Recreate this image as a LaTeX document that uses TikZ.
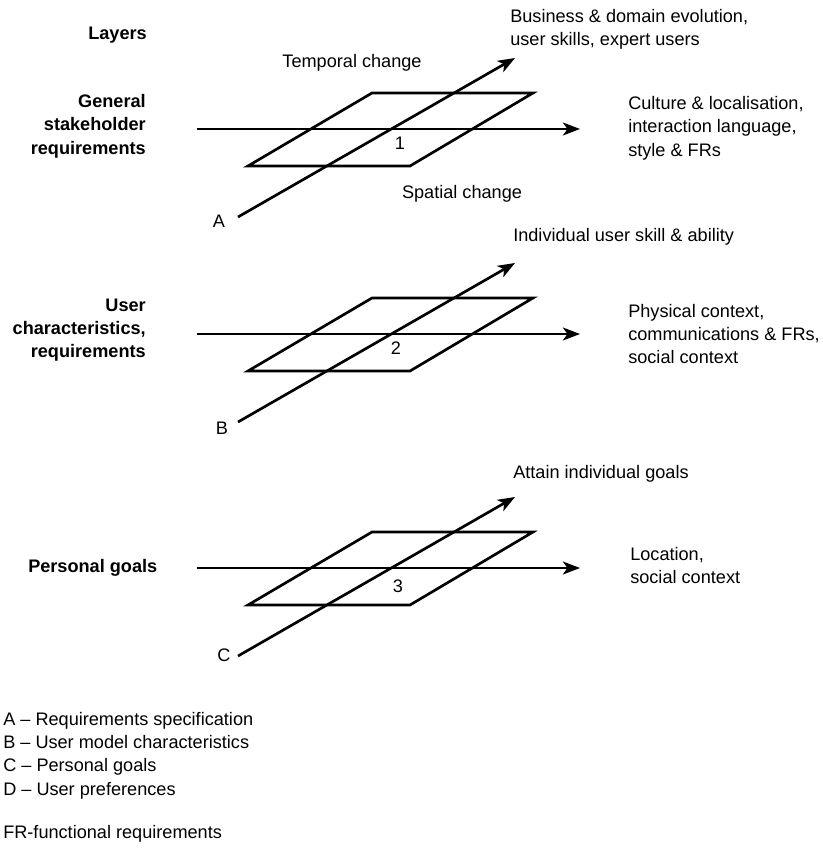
\documentclass[tikz,border=0pt]{standalone}
\usepackage{fontspec}
\setmainfont{Liberation Sans}
\usetikzlibrary{arrows.meta}
\tikzset{
  layerlabel/.style={font=\fontsize{13.6}{17.5}\selectfont\bfseries, align=right, inner sep=0pt},
  plainlabel/.style={font=\fontsize{13.6}{17.5}\selectfont, align=left, inner sep=0pt},
  changeedge/.style={-{Stealth[length=4.5mm, width=3.4mm, inset=1.2mm]}, line width=2pt},
  gridplane/.style={line width=2pt, line join=miter},
}

\begin{document}
\begin{tikzpicture}[x=0.75pt, y=-0.75pt]
  \useasboundingbox (0,0) rectangle (823,848);

  % layer 1
  \node[layerlabel, anchor=east] (layers) at (147,35) {Layers};
  \node[layerlabel, anchor=east] (general) at (146,126) {General\\stakeholder\\requirements};
  \draw[gridplane] (248,166) -- (410,166) -- (533,93) -- (372,93) -- cycle;
  \coordinate (hs1) at (197,129);
  \coordinate (he1) at (580,129);
  \coordinate (ds1) at (238,217);
  \coordinate (de1) at (515,58);
  \draw[changeedge] (hs1) -- (he1);
  \draw[changeedge] (ds1) -- (de1);
  \node[plainlabel] (temporal) at (352,63) {Temporal change};
  \node[plainlabel] (spatial) at (462,194) {Spatial change};
  \node[plainlabel] (one) at (400,143) {1};
  \node[plainlabel] (a) at (219,221) {A};
  \node[plainlabel, anchor=west] (business) at (510,29.5) {Business \& domain evolution,\\user skills, expert users};
  \node[plainlabel, anchor=west] (culture) at (628,128) {Culture \& localisation,\\interaction language,\\style \& FRs};

  % layer 2
  \node[layerlabel, anchor=east] (usercharac) at (146,330) {User\\characteristics,\\requirements};
  \draw[gridplane] (248,371) -- (410,371) -- (533,298) -- (372,298) -- cycle;
  \coordinate (hs2) at (197,334);
  \coordinate (he2) at (580,334);
  \coordinate (ds2) at (238,422);
  \coordinate (de2) at (515,263);
  \draw[changeedge] (hs2) -- (he2);
  \draw[changeedge] (ds2) -- (de2);
  \node[plainlabel] (two) at (396,348) {2};
  \node[plainlabel] (b) at (222,428) {B};
  \node[plainlabel, anchor=west] (skill) at (513,237) {Individual user skill \& ability};
  \node[plainlabel, anchor=west] (physical) at (628,334) {Physical context,\\communications \& FRs,\\social context};

  % layer 3
  \node[layerlabel, anchor=west] (personal) at (28,568) {Personal goals};
  \draw[gridplane] (248,605) -- (410,605) -- (533,532) -- (372,532) -- cycle;
  \coordinate (hs3) at (197,568);
  \coordinate (he3) at (580,568);
  \coordinate (ds3) at (238,656);
  \coordinate (de3) at (515,497);
  \draw[changeedge] (hs3) -- (he3);
  \draw[changeedge] (ds3) -- (de3);
  \node[plainlabel] (three) at (398,586) {3};
  \node[plainlabel] (c) at (224,655) {C};
  \node[plainlabel, anchor=west] (attain) at (513,474) {Attain individual goals};
  \node[plainlabel, anchor=west] (location) at (630,565.5) {Location,\\social context};

  % legend
  \node[plainlabel, anchor=west] (legend) at (3,755.5) {A -- Requirements specification\\B -- User model characteristics\\C -- Personal goals\\D -- User preferences};
  \node[plainlabel, anchor=west] (frnote) at (3,834) {FR-functional requirements};
\end{tikzpicture}
\end{document}
